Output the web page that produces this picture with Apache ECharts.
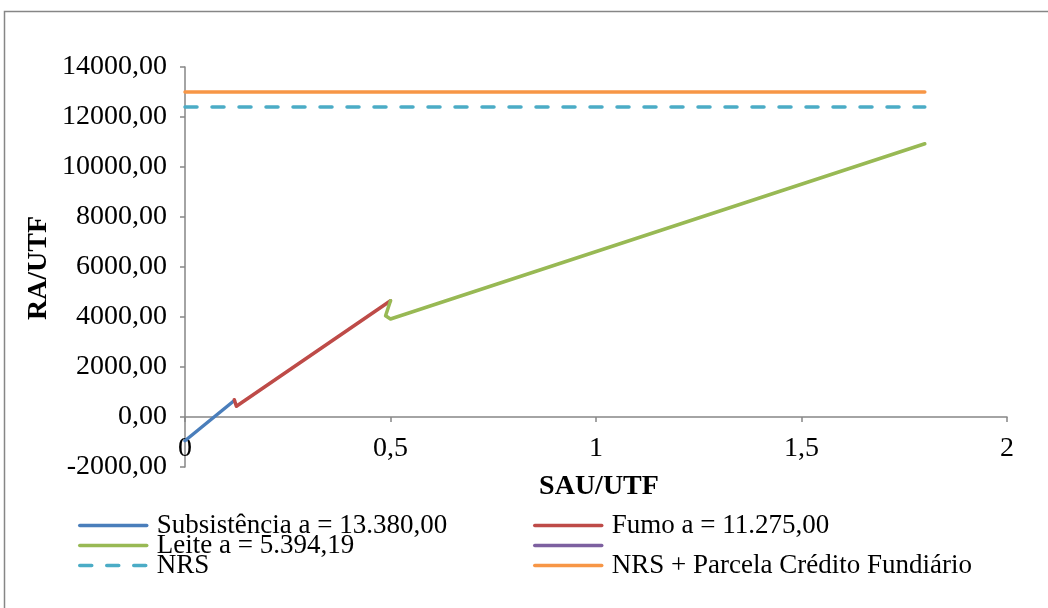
<!DOCTYPE html>
<html>
<head>
<meta charset="utf-8">
<script src="https://cdn.jsdelivr.net/npm/echarts@6/dist/echarts.min.js"></script>
<style>
  html, body { margin: 0; padding: 0; background: #fff; }
  #chart { width: 1048px; height: 608px; }
</style>
</head>
<body>
<div id="chart"></div>
<script>
  // dados (SAU/UTF x RA/UTF)
  const subsX = [0, 0.12]
  const subsY = [-950, 660]
  const fumoX = [0.12, 0.125, 0.5]
  const fumoY = [690, 430, 4650]
  const leiteX = [0.5, 0.488, 0.5, 1.8]
  const leiteY = [4650, 4050, 3920, 10930]
  const nrsX = [0, 1.8]
  const nrsY = [12400, 12400]
  const nrsCredX = [0, 1.8]
  const nrsCredY = [13000, 13000]
  const xTicks = [0, 0.5, 1, 1.5, 2]
  const yTicks = [-2000, 0, 2000, 4000, 6000, 8000, 10000, 12000, 14000]

  const names = ['Subsistência a = 13.380,00', 'Fumo a = 11.275,00', 'Leite a = 5.394,19', ' ', 'NRS', 'NRS + Parcela Crédito Fundiário']

  function pairs(xs, ys) {
    return xs.map((x, i) => [x, ys[i]])
  }

  const font = 'Liberation Serif'
  const axisGray = '#868686'

  let chart = echarts.init(document.getElementById('chart'))

  let lineSeries = (name, xs, ys, color, extra) => Object.assign({
    name: name,
    type: 'line',
    symbol: 'none',
    data: pairs(xs, ys),
    lineStyle: { color: color, width: 3.5, cap: 'round', join: 'round' },
    itemStyle: { color: color },
    animation: false
  }, extra || {})

  let legendBase = {
    orient: 'vertical',
    top: 512,
    padding: 0,
    itemWidth: 67,
    itemHeight: 14,
    itemGap: -7,
    itemStyle: { opacity: 0 },
    lineStyle: { width: 3.5, cap: 'round' },
    textStyle: { fontFamily: font, fontSize: 27, color: '#000', padding: [3, 0, 0, 5] }
  }

  chart.setOption({
    backgroundColor: '#fff',
    textStyle: { fontFamily: font },
    grid: { left: 185, right: 41, top: 67, bottom: 141 },
    graphic: [
      {   // moldura do gráfico
        type: 'rect',
        shape: { x: 4.5, y: 11.5, width: 1100, height: 700 },
        style: { fill: 'none', stroke: axisGray, lineWidth: 1.5 },
        silent: true
      },
      {
        type: 'text', x: 599, y: 487,
        style: { text: 'SAU/UTF', fontFamily: font, fontSize: 28, fontWeight: 'bold', fill: '#000', align: 'center', verticalAlign: 'middle' }
      },
      {
        type: 'text', x: 39, y: 268, rotation: Math.PI / 2,
        style: { text: 'RA/UTF', fontFamily: font, fontSize: 28, fontWeight: 'bold', fill: '#000', align: 'center', verticalAlign: 'middle' }
      }
    ],
    legend: [
      Object.assign({}, legendBase, { left: 78, data: [names[0], names[2], names[4]] }),
      Object.assign({}, legendBase, { left: 533, data: [names[1], names[3], names[5]] })
    ],
    xAxis: {
      type: 'value',
      min: xTicks[0],
      max: xTicks[xTicks.length - 1],
      interval: 0.5,
      axisLine: { onZero: true, lineStyle: { color: axisGray, width: 1.5 } },
      axisTick: { show: true, length: 5, lineStyle: { color: axisGray, width: 1.5 } },
      axisLabel: {
        margin: -32, fontFamily: font, fontSize: 28, color: '#000',
        formatter: v => String(v).replace('.', ',')
      },
      splitLine: { show: false }
    },
    yAxis: {
      type: 'value',
      min: yTicks[0],
      max: yTicks[yTicks.length - 1],
      interval: 2000,
      axisLine: { show: true, onZero: false, lineStyle: { color: axisGray, width: 1.5 } },
      axisTick: { show: true, length: 5, lineStyle: { color: axisGray, width: 1.5 } },
      axisLabel: {
        margin: 18, fontFamily: font, fontSize: 28, color: '#000',
        formatter: v => v.toFixed(2).replace('.', ',')
      },
      splitLine: { show: false }
    },
    series: [
      lineSeries(names[0], subsX, subsY, '#4A7EBB'),
      lineSeries(names[1], fumoX, fumoY, '#BE4B48'),
      lineSeries(names[2], leiteX, leiteY, '#98B954'),
      lineSeries(names[3], [], [], '#7D60A0'),
      lineSeries(names[4], nrsX, nrsY, '#4BACC6', {
        lineStyle: { color: '#4BACC6', width: 3.5, type: [12, 15], cap: 'round' }
      }),
      lineSeries(names[5], nrsCredX, nrsCredY, '#F79646')
    ]
  })
</script>
</body>
</html>
